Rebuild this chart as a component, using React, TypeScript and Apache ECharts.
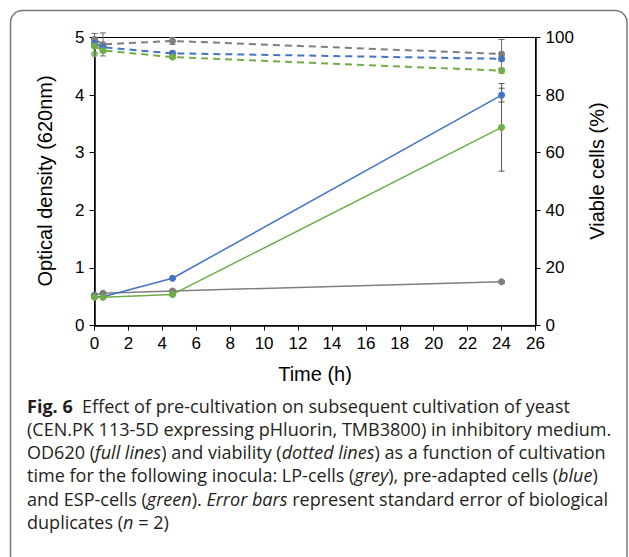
import React, { useEffect, useRef } from "react";
import * as echarts from "echarts";

// ---- data ----
const timeH = [0, 0.5, 4.6, 24];
const odGrey = [0.53, 0.56, 0.6, 0.76];
const odBlue = [0.5, 0.5, 0.82, 4.0];
const odGreen = [0.49, 0.49, 0.54, 3.44];
const odGreyErr = [0.02, 0.02, 0.02, 0.02];
const odBlueErr = [0.01, 0.01, 0.02, 0.12];
const odGreenErr = [0.01, 0.01, 0.02, 0.76];
const viaGrey = [99.4, 97.6, 98.8, 94.3];
const viaBlue = [98.0, 96.6, 94.5, 92.6];
const viaGreen = [97.0, 95.5, 93.2, 88.5];
const viaGreenExtraTime = [0];
const viaGreenExtra = [94.3];
const viaGreyErr = [2.0, 4.0, 1.2, 5.0];
const viaBlueErr = [0.5, 0.5, 0.8, 0.8];
const viaGreenErr = [0.5, 0.8, 0.5, 0.8];

const xTicksMax = 26;
const odMax = 5;
const viaMax = 100;

const captionLines: string[][] = [
  ["{b|Fig. 6}  Effect of pre-cultivation on subsequent cultivation of yeast"],
  ["(CEN.PK 113-5D expressing pHluorin, TMB3800) in inhibitory medium."],
  ["OD620 ({i|full lines}) and viability ({i|dotted lines}) as a function of cultivation"],
  ["time for the following inocula: LP-cells ({i|grey}), pre-adapted cells ({i|blue})"],
  ["and ESP-cells ({i|green}). {i|Error bars} represent standard error of biological"],
  ["duplicates ({i|n} = 2)"],
];

const GREY = "#7f7f7f";
const BLUE = "#4472c4";
const GREEN = "#70ad47";

const zip = (xs: number[], ys: number[]) => xs.map((x, i) => [x, ys[i]]);
const zip3 = (xs: number[], ys: number[], es: number[]) => xs.map((x, i) => [x, ys[i], es[i]]);

function errSeries(data: number[][], yAxisIndex: number, color: string) {
  return {
    type: "custom",
    yAxisIndex,
    z: 1,
    silent: true,
    encode: { x: 0, y: 1 },
    data,
    renderItem: (params: any, api: any) => {
      const x = api.value(0);
      const y = api.value(1);
      const e = api.value(2);
      const lo = api.coord([x, y - e]);
      const hi = api.coord([x, y + e]);
      const w = 3;
      const st = { stroke: color, lineWidth: 1 };
      return {
        type: "group",
        children: [
          { type: "line", shape: { x1: lo[0], y1: lo[1], x2: hi[0], y2: hi[1] }, style: st },
          { type: "line", shape: { x1: lo[0] - w, y1: lo[1], x2: lo[0] + w, y2: lo[1] }, style: st },
          { type: "line", shape: { x1: hi[0] - w, y1: hi[1], x2: hi[0] + w, y2: hi[1] }, style: st },
        ],
      };
    },
  };
}

function lineSeries(data: number[][], yAxisIndex: number, color: string, dashed: boolean) {
  return {
    type: "line",
    yAxisIndex,
    data,
    z: dashed ? 3 : 2,
    symbol: "circle",
    symbolSize: 7,
    showSymbol: true,
    itemStyle: { color },
    lineStyle: dashed
      ? { color, width: 2, type: [7, 5] }
      : { color, width: 1.5, type: "solid" },
    silent: true,
  };
}

export default function App() {
  const ref = useRef<HTMLDivElement>(null);
  useEffect(() => {
    if (!ref.current) return;
    const chart = echarts.init(ref.current, null, { renderer: "svg" });
    const axisFont = "Liberation Sans, Arial, sans-serif";
    const capFont = "'Open Sans', 'Noto Sans', sans-serif";
    const capBase = 416;
    const capStep = 23.3;
    const capSize = 18.5;
    const capLH = 22;
    const graphics: any[] = [
      {
        type: "rect",
        shape: { x: 10.5, y: 10.5, width: 616.5, height: 620, r: 12 },
        style: { fill: "none", stroke: "#777", lineWidth: 1.5 },
        z: 0,
      },
      {
        type: "text",
        x: 315,
        y: 374,
        style: {
          text: "Time (h)",
          font: `20px ${axisFont}`,
          fill: "#000",
          align: "center",
          verticalAlign: "middle",
        },
      },
      {
        type: "text",
        x: 45,
        y: 181,
        rotation: Math.PI / 2,
        style: {
          text: "Optical density (620nm)",
          font: `20px ${axisFont}`,
          fill: "#000",
          align: "center",
          verticalAlign: "middle",
        },
      },
      {
        type: "text",
        x: 597,
        y: 171,
        rotation: Math.PI / 2,
        style: {
          text: "Viable cells (%)",
          font: `20px ${axisFont}`,
          fill: "#000",
          align: "center",
          verticalAlign: "middle",
        },
      },
    ];
    captionLines.forEach((parts, i) => {
      graphics.push({
        type: "text",
        x: 27,
        y: capBase + i * capStep,
        scaleX: 0.975,
        style: {
          text: parts.join(""),
          fontFamily: capFont,
          fontSize: capSize,
          lineHeight: capLH,
          fill: "#231f20",
          align: "left",
          verticalAlign: "bottom",
          rich: {
            b: { fontFamily: capFont, fontSize: capSize, lineHeight: capLH, fontWeight: "bold", fill: "#231f20" },
            i: { fontFamily: capFont, fontSize: capSize, lineHeight: capLH, fontStyle: "italic", fill: "#231f20" },
          },
        },
      });
    });

    chart.setOption({
      animation: false,
      backgroundColor: "#fff",
      textStyle: { fontFamily: axisFont },
      grid: {
        left: 94.5,
        right: 93.5,
        top: 37.5,
        bottom: 231.5,
        show: true,
        borderColor: "#000",
        borderWidth: 1,
        backgroundColor: "transparent",
        containLabel: false,
        outerBoundsMode: "none",
      },
      xAxis: {
        type: "value",
        min: 0,
        max: xTicksMax,
        interval: 2,
        axisLine: { show: true, onZero: false, lineStyle: { color: "#000", width: 1.5 } },
        axisTick: { show: true, length: 5, lineStyle: { color: "#000", width: 1 } },
        splitLine: { show: false },
        axisLabel: { color: "#000", fontSize: 17, margin: 9, fontFamily: axisFont },
      },
      yAxis: [
        {
          type: "value",
          min: 0,
          max: odMax,
          interval: 1,
          position: "left",
          axisLine: { show: true, onZero: false, lineStyle: { color: "#000", width: 1.5 } },
          axisTick: { show: true, length: 5, lineStyle: { color: "#000", width: 1 } },
          splitLine: { show: false },
          axisLabel: { color: "#000", fontSize: 17, margin: 10, fontFamily: axisFont },
        },
        {
          type: "value",
          min: 0,
          max: viaMax,
          interval: 20,
          position: "right",
          axisLine: { show: true, onZero: false, lineStyle: { color: "#000", width: 1.5 } },
          axisTick: { show: true, length: 5, lineStyle: { color: "#000", width: 1 } },
          splitLine: { show: false },
          axisLabel: { color: "#000", fontSize: 17, margin: 10, fontFamily: axisFont },
        },
      ],
      graphic: graphics,
      series: [
        errSeries(zip3(timeH, viaGrey, viaGreyErr), 1, "#6b6b6b"),
        errSeries(zip3(timeH, viaBlue, viaBlueErr), 1, "#6b6b6b"),
        errSeries(zip3(timeH, viaGreen, viaGreenErr), 1, "#6b6b6b"),
        errSeries(zip3(timeH, odGrey, odGreyErr), 0, "#555"),
        errSeries(zip3(timeH, odBlue, odBlueErr), 0, "#555"),
        errSeries(zip3(timeH, odGreen, odGreenErr), 0, "#555"),
        lineSeries(zip(timeH, odGrey), 0, GREY, false),
        lineSeries(zip(timeH, odBlue), 0, BLUE, false),
        lineSeries(zip(timeH, odGreen), 0, GREEN, false),
        lineSeries(zip(timeH, viaGrey), 1, GREY, true),
        lineSeries(zip(timeH, viaBlue), 1, BLUE, true),
        lineSeries(zip(timeH, viaGreen), 1, GREEN, true),
        {
          type: "scatter",
          yAxisIndex: 1,
          symbol: "circle",
          symbolSize: 7,
          itemStyle: { color: GREEN },
          data: zip(viaGreenExtraTime, viaGreenExtra),
          silent: true,
          z: 3,
        },
      ],
    });
    return () => chart.dispose();
  }, []);
  return (
    <div
      ref={ref}
      style={{ position: "fixed", left: 0, top: 0, width: 629, height: 557, background: "#fff" }}
    />
  );
}
